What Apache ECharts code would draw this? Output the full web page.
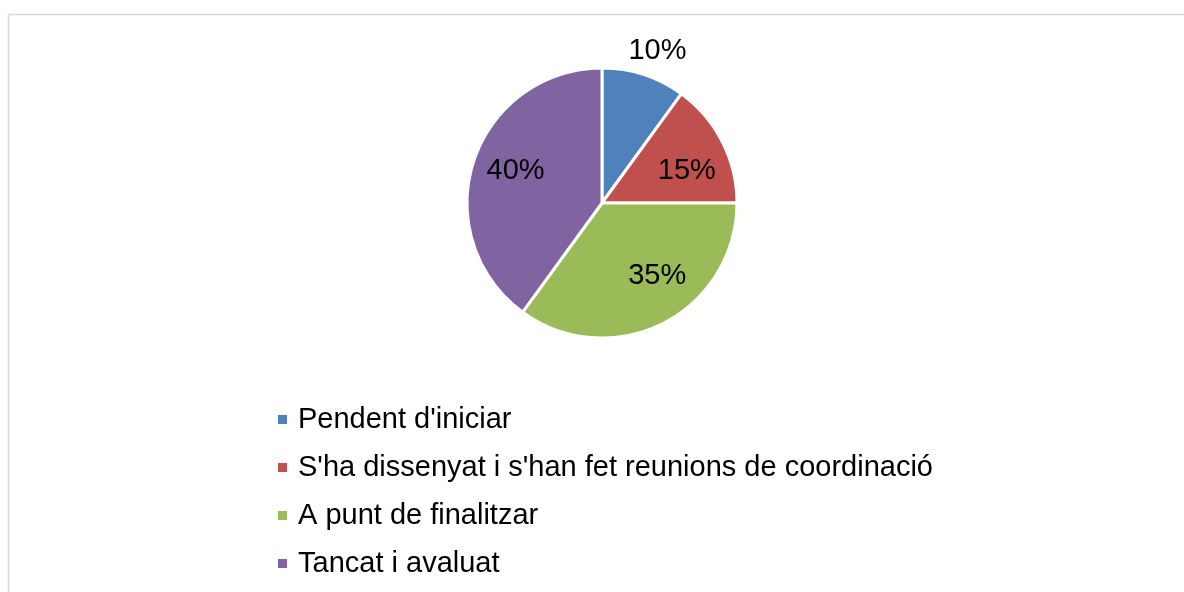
<!DOCTYPE html>
<html><head><meta charset="utf-8">
<script src="https://cdn.jsdelivr.net/npm/echarts@6/dist/echarts.min.js"></script>
<style>html,body{margin:0;padding:0;background:#fff}#c{width:1184px;height:592px}</style>
</head><body><div id="c"></div>
<script>
const categories = ["Pendent d'iniciar", "S'ha dissenyat i s'han fet reunions de coordinació", "A punt de finalitzar", "Tancat i avaluat"];
const values = [10, 15, 35, 40];
const colors = ['#4F81BD', '#C0504D', '#9BBB59', '#8064A2'];

const chart = echarts.init(document.getElementById('c'));
const font = 'Liberation Sans, Arial, sans-serif';
const center = [602, 203];
const labelOffsets = [[-24, -12], [2, 10], [13, -10], [2, -3]];
const mainData = categories.map((n, i) => ({ name: n, value: values[i], itemStyle: { color: colors[i] } }));
const labelData = categories.map((n, i) => {
  const d = { name: n, value: values[i], label: { offset: labelOffsets[i] } };
  if (i === 0) d.label.position = 'outside';
  return d;
});
chart.setOption({
  backgroundColor: '#fff',
  animation: false,
  graphic: [{ type: 'rect', shape: { x: 8.5, y: 14.5, width: 1300, height: 700 }, style: { fill: 'none', stroke: '#d9d9d9', lineWidth: 1.5 }, silent: true }],
  legend: {
    orient: 'vertical', left: 271, top: 400, icon: 'rect', itemWidth: 11, itemHeight: 11, itemGap: 19,
    textStyle: { fontFamily: font, fontSize: 29, color: '#000', lineHeight: 29, padding: [0, 0, 0, 5] },
    data: categories
  },
  series: [{
    type: 'pie', center: center, radius: [0, 135], startAngle: 90, clockwise: true,
    itemStyle: { borderColor: '#fff', borderWidth: 3 },
    label: { show: false }, labelLine: { show: false }, silent: true,
    data: mainData
  }, {
    type: 'pie', center: center, radius: [45, 135], startAngle: 90, clockwise: true,
    itemStyle: { color: 'transparent', borderWidth: 0 }, silent: true,
    label: { show: true, position: 'inside', formatter: '{d}%', fontFamily: font, fontSize: 29, color: '#000' },
    labelLine: { show: false, length: 12, length2: 0 },
    data: labelData
  }]
});
</script></body></html>
